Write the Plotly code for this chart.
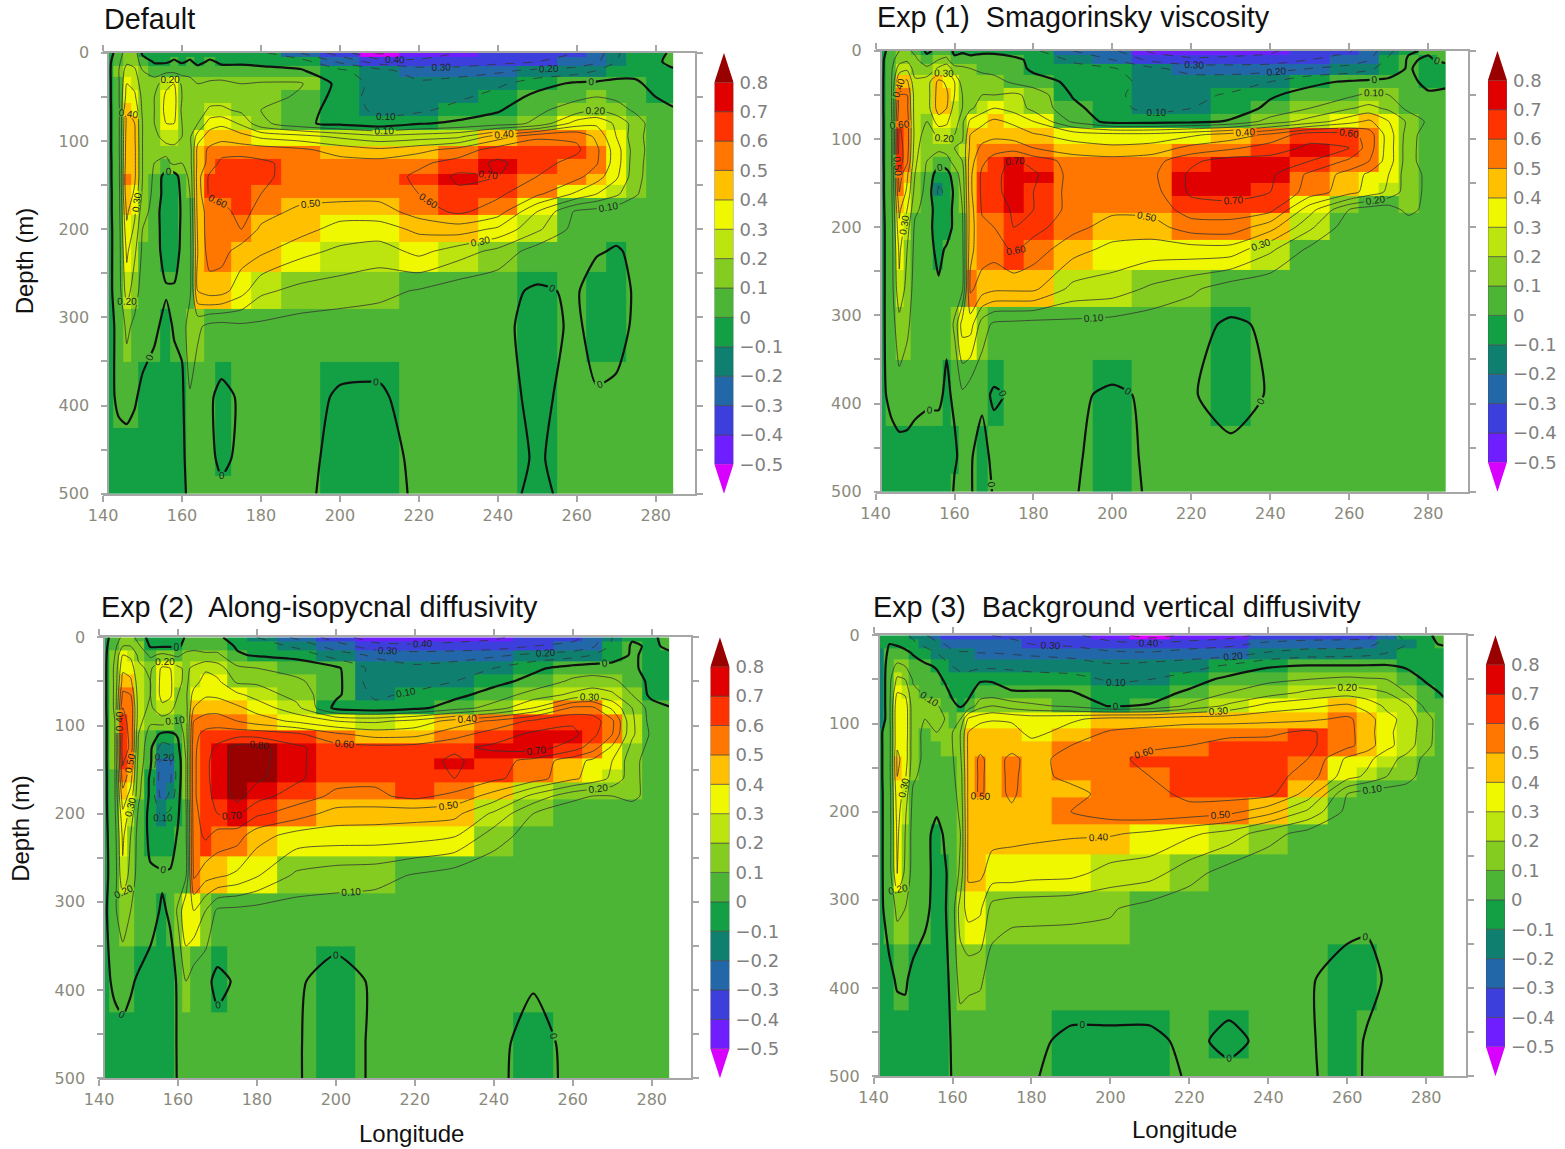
import numpy as np
import plotly.graph_objects as go

W, H = 1565, 1149

LONS = [141.3,144,146,148,150,153,156,158,160,162,164,167,170,175,180,190,200,210,220,230,240,250,260,265,270,275,280,284.4]
DEPTHS = [0,10,20,35,50,65,80,95,110,125,140,160,180,200,225,270,310,390,460,500]
DEPTH_EDGES = [0,5,15,27,42,57,72,87,105,120,137,150,165,184,214,248,290,350,425,480,500]

# velocity in hundredths of m/s, one row per depth
DEFAULT_Z = [
[-5,5,15,15,-2,-3,-3,-3,-5,-3,-5,-3,-5,-5,-8,-20,-35,-52,-45,-40,-35,-33,-30,-25,-12,-2,-5,3],
[-3,8,18,16,5,-1,-1,1,-1,1,-2,1,-1,-1,-2,-5,-22,-35,-38,-37,-33,-30,-28,-22,-10,-1,-3,5],
[-3,10,25,22,10,5,6,6,5,8,3,3,2,2,2,1,-8,-17,-25,-25,-22,-18,-15,-10,-5,-2,-5,-2],
[-3,9,30,27,14,15,28,30,18,12,10,12,13,10,11,11,-3,-14,-18,-15,-12,-4,2,2,3,1,-2,-5],
[-3,9,34,32,17,20,32,33,20,16,13,15,16,17,15,8,-4,-15,-16,-12,-6,3,8,10,8,4,0,-3],
[-3,8,40,38,18,20,33,33,18,15,14,22,22,18,10,3,-3,-13,-12,-6,-1,8,15,20,15,8,3,1],
[-3,8,43,40,20,20,30,30,20,17,20,35,38,28,13,2,-3,-7,-1,2,5,12,35,38,28,15,4,2],
[-3,8,45,41,20,15,28,28,20,18,35,45,47,44,38,34,28,23,25,28,45,58,58,48,30,13,5,2],
[-3,8,46,42,20,12,12,15,12,15,44,52,55,55,55,52,46,42,47,54,65,68,62,52,35,14,5,2],
[-3,7,47,42,20,10,8,12,10,15,44,53,63,65,62,56,54,54,58,64,72,64,56,51,35,13,5,2],
[-3,7,50,42,20,8,-5,-5,5,12,46,62,66,66,62,56,55,55,62,72,70,60,53,45,32,13,4,2],
[-3,6,48,38,18,7,-5,-8,3,10,45,62,64,65,60,55,54,54,60,68,62,52,38,30,22,11,3,1],
[-3,6,42,32,14,6,-8,-8,2,8,44,55,55,65,55,47,45,45,55,62,55,30,8,6,4,3,2,1],
[-3,5,38,28,10,5,-6,-6,2,7,42,56,55,60,48,44,36,36,42,45,38,22,6,4,3,2,2,1],
[-3,5,32,22,8,4,-4,-4,2,6,40,55,54,45,42,33,28,25,33,25,17,5,2,1,-1,2,2,1],
[-3,5,25,14,6,3,1,1,2,7,40,45,44,34,22,17,15,13,9,4,2,-1,1,-6,-3,1,1,1],
[-4,3,12,8,4,2,-3,1,2,18,12,7,6,8,8,6,5,4,3,2,3,-4,2,-5,-2,1,1,1],
[-3,2,4,1,-2,-5,-4,-4,-2,9,4,1,-2,1,2,3,-1,-1,3,1,3,-2,3,1,1,1,1,1],
[-5,-4,-5,-4,-4,-4,-4,-4,-1,2,1,1,-1,1,1,4,-4,-5,3,1,4,-1,4,1,1,1,1,1],
[-5,-5,-5,-5,-5,-5,-5,-5,-1,1,1,1,1,1,1,2,-3,-5,2,1,3,-2,3,1,1,1,1,1],
]

EXP1_Z = [
[-5,5,10,12,8,-2,3,5,-2,-1,-2,-1,-1,-2,-8,-20,-28,-42,-46,-45,-42,-33,-31,-25,-13,-1,1,3],
[-3,7,15,18,12,4,10,12,2,3,2,2,2,1,-1,-12,-20,-33,-38,-37,-36,-30,-26,-21,-8,1,-1,2],
[-3,8,25,28,15,12,22,28,14,12,10,8,6,4,-2,-6,-9,-18,-24,-25,-24,-20,-16,-12,-5,1,-4,-3],
[-3,9,40,42,22,25,43,38,30,15,14,14,14,8,4,-2,-8,-12,-15,-14,-10,-2,1,2,2,2,-2,-1],
[-3,9,50,50,25,25,45,42,30,20,18,20,20,22,17,-1,-8,-14,-12,-9,-1,3,8,12,10,5,1,1],
[-3,9,55,52,25,25,45,40,26,20,18,25,30,26,17,3,-7,-13,-10,-5,2,10,19,23,18,7,2,1],
[-3,8,60,55,25,20,35,32,22,18,32,38,42,38,30,8,-4,-4,-3,1,14,24,36,42,30,18,8,2],
[-3,8,62,55,26,15,22,24,20,18,40,44,47,45,41,36,33,33,38,44,52,66,64,55,35,15,4,2],
[-3,8,64,55,24,12,12,14,20,22,42,53,56,56,50,44,42,44,53,58,65,72,70,55,35,14,4,2],
[-3,8,66,52,22,10,5,6,14,20,46,58,64,72,66,56,54,56,68,75,74,70,58,50,35,14,4,2],
[-3,7,55,42,20,8,-6,-4,5,15,48,62,66,76,72,56,54,58,72,75,72,58,46,38,30,14,8,2],
[-3,7,50,38,16,7,-12,-8,2,12,48,62,66,76,70,56,53,56,72,75,70,56,44,36,28,14,8,1],
[-3,6,42,30,12,6,-6,-4,2,10,46,61,62,72,70,56,52,53,65,65,63,34,10,5,4,14,6,1],
[-3,5,38,24,8,4,-5,-4,2,8,46,58,60,70,64,53,46,46,55,56,44,22,4,3,2,2,2,1],
[-3,5,32,20,7,3,-2,1,2,7,48,55,54,62,55,44,37,35,36,36,22,8,3,2,1,1,1,1],
[-3,5,28,16,6,2,1,1,2,8,52,45,42,42,42,27,25,18,12,4,2,1,1,1,1,1,1,1],
[-3,5,16,12,5,2,1,1,12,35,35,15,8,7,6,7,6,4,2,-1,1,1,1,1,1,1,1,1],
[-3,3,6,4,2,1,1,-1,1,8,3,2,-1,1,1,1,-1,1,1,-5,1,1,1,1,1,1,1,1],
[-5,-5,-4,-3,-3,-3,-3,-3,-1,2,1,-4,3,1,1,2,-6,3,1,3,1,1,1,1,1,1,1,1],
[-5,-5,-5,-5,-5,-5,-5,-5,1,1,1,-5,1,1,1,1,-6,2,1,1,1,1,1,1,1,1,1,1],
]

EXP2_Z = [
[-4,5,12,15,5,-3,-3,-3,-4,1,4,2,2,-5,-10,-22,-35,-46,-46,-45,-42,-35,-32,-28,-10,-1,-1,2],
[-3,7,20,20,12,-1,-1,-1,-2,4,8,5,5,-1,-4,-12,-25,-36,-38,-36,-35,-30,-28,-22,-8,1,-1,1],
[-3,10,30,28,18,8,12,10,8,13,12,12,12,1,-1,-3,-15,-22,-25,-25,-22,-18,-14,-10,-5,1,-2,-1],
[-3,12,38,35,22,18,32,30,22,18,22,28,25,12,10,6,2,-14,-18,-15,-10,-2,4,5,4,2,-4,-5],
[-3,12,44,42,24,20,33,32,22,18,25,35,32,18,18,12,3,-16,-15,-10,-3,3,12,14,12,6,-3,-6],
[-3,12,52,50,25,20,33,32,20,18,34,38,38,32,26,16,2,-12,-8,-3,4,14,22,26,22,10,-3,-8],
[-3,12,60,58,25,18,28,25,14,16,40,48,46,42,36,23,-3,-7,-3,5,14,30,52,52,38,20,5,1],
[-3,10,62,58,24,12,15,12,8,15,50,52,55,50,45,38,30,28,33,44,52,62,68,66,52,22,6,2],
[-3,10,64,58,20,5,-2,-2,1,14,55,65,65,66,66,62,52,46,47,56,65,72,73,63,50,22,8,2],
[-3,10,66,58,18,2,-15,-12,-2,12,58,66,72,84,84,72,64,63,64,68,72,75,65,55,38,17,6,2],
[-3,10,62,50,16,2,-25,-20,-5,10,58,68,74,84,84,72,64,62,65,72,64,57,44,38,30,14,4,2],
[-3,9,55,44,14,-2,-28,-22,-5,10,58,68,74,84,82,72,63,62,65,70,62,55,42,36,28,14,4,1],
[-3,9,46,36,12,-2,-25,-18,-3,10,58,68,72,84,74,65,58,58,63,57,46,27,13,10,10,14,4,1],
[-3,8,38,26,8,-3,-12,-8,-1,8,56,66,70,72,62,55,46,45,44,43,28,10,3,2,1,1,1,1],
[-3,6,32,20,6,-2,-6,-5,1,8,55,62,56,54,44,36,35,35,34,31,15,5,2,1,1,1,1,1],
[-3,5,28,16,6,1,1,1,2,8,52,44,42,38,31,18,15,14,9,5,2,1,1,1,1,1,1,1],
[-3,9,14,10,6,3,-1,1,12,30,30,20,8,7,6,5,5,4,3,2,1,1,1,1,1,1,1,1],
[-3,2,5,1,-1,-3,-5,-3,1,10,4,2,-2,1,1,1,-3,1,1,1,1,1,1,1,1,1,1,1],
[-5,-4,-4,-3,-3,-3,-6,-4,1,3,1,1,3,1,1,1,-6,2,1,1,3,-4,3,1,1,1,1,1],
[-5,-5,-5,-5,-5,-5,-8,-5,1,1,1,1,1,1,1,1,-6,2,1,1,3,-5,3,1,1,1,1,1],
]

EXP3_Z = [
[-5,-5,-4,-8,-12,-18,-28,-30,-30,-30,-30,-30,-30,-32,-35,-38,-45,-55,-48,-45,-36,-35,-34,-34,-20,-3,-1,2],
[-3,0,-1,-4,-8,-12,-16,-20,-24,-25,-26,-25,-26,-27,-30,-32,-37,-38,-35,-32,-28,-26,-26,-24,-15,-10,-2,1],
[-11,3,4,3,-1,-6,-10,-14,-18,-19,-19,-20,-20,-21,-22,-24,-28,-29,-26,-25,-19,-15,-14,-13,-10,-8,-6,-5],
[-11,6,12,10,5,2,-1,-6,-10,-12,-12,-12,-12,-12,-13,-14,-18,-16,-14,-8,-1,1,1,1,1,-1,-5,-8],
[-11,7,22,20,9,6,3,-1,-5,-7,-7,-1,-1,-5,-6,-7,-11,-10,-5,3,8,10,12,11,10,4,-1,-5],
[-11,7,30,28,12,9,7,3,-2,-3,-2,4,4,1,1,1,-7,-5,2,10,15,22,26,24,20,10,3,-1],
[-11,7,38,36,14,12,11,7,2,-1,2,16,20,15,12,8,-1,1,12,22,34,38,42,36,28,22,7,2],
[-11,7,39,37,14,10,18,10,8,10,32,37,39,38,36,38,44,44,46,46,47,48,52,45,33,27,14,3],
[-3,6,39,37,14,8,10,10,10,20,40,46,46,45,36,45,51,54,56,57,58,62,53,45,32,26,14,3],
[-3,6,39,36,14,8,8,10,10,20,42,46,46,47,45,50,55,58,60,64,64,62,53,45,33,25,13,3],
[-3,6,42,36,14,8,6,6,9,18,42,52,46,52,47,53,57,63,66,67,66,60,38,33,24,17,7,1],
[-3,6,40,32,12,6,5,5,8,15,42,52,46,52,46,53,56,60,65,67,64,56,34,28,20,15,4,1],
[-3,5,36,26,8,4,3,3,6,14,42,52,45,52,44,46,54,56,63,64,63,46,10,5,4,3,2,1],
[-3,5,34,22,7,3,1,1,5,12,42,45,44,48,45,50,55,57,56,53,44,28,7,3,2,2,1,1],
[-3,5,32,20,6,3,-3,1,4,10,42,43,43,42,42,41,41,38,32,26,14,6,2,1,1,1,1,1],
[-3,5,30,18,6,3,-3,-1,3,12,42,42,36,36,34,33,26,24,14,5,2,1,1,1,1,1,1,1],
[-3,4,12,10,5,2,-3,-1,5,25,34,32,16,13,13,12,11,6,3,2,1,1,4,2,1,1,1,1],
[-3,-2,1,1,-2,-4,-4,-3,3,14,13,12,4,2,1,3,3,3,1,2,1,1,-4,-3,1,1,1,1],
[-5,-3,-4,-3,-3,-3,-3,-3,1,4,2,1,1,1,1,-1,-1,-1,1,-1,1,1,-4,1,1,1,1,1],
[-5,-5,-5,-5,-5,-5,-5,-5,1,1,1,1,1,1,1,-4,-6,-4,1,1,1,1,-3,1,1,1,1,1],
]

LEVELS = [-0.5,-0.4,-0.3,-0.2,-0.1,0,0.1,0.2,0.3,0.4,0.5,0.6,0.7,0.8]
LEVEL_TEXT = ["\u22120.5","\u22120.4","\u22120.3","\u22120.2","\u22120.1","0","0.1","0.2","0.3","0.4","0.5","0.6","0.7","0.8"]
BAND_COLORS = ["#d800ff","#6f1fff","#3d3fdc","#2268a8","#0f8070","#13a045","#4cb535","#84cc1f",
               "#bce510","#f0f800","#ffc000","#ff7700","#ff3300","#e00000","#990000"]
TITLES = ["Default","Exp (1)  Smagorinsky viscosity","Exp (2)  Along-isopycnal diffusivity","Exp (3)  Background vertical diffusivity"]
DEPTH_TICKS = [0,50,100,150,200,250,300,350,400,450,500]
LON_TICKS = list(range(140,300,20))

# panel geometry in page pixels: x of lon 140, data-left, right frame, top, bottom, colorbar left, title x, title y
PANELS = [
 dict(z=DEFAULT_Z, l=103, d=108, r=695, t=52, b=494, c=714, tx=102, ty=18),
 dict(z=EXP1_Z, l=875, d=880, r=1467, t=50, b=492, c=1487, tx=874, ty=16),
 dict(z=EXP2_Z, l=99, d=104, r=691, t=638, b=1080, c=710, tx=99, ty=608),
 dict(z=EXP3_Z, l=873, d=878, r=1465, t=636, b=1078, c=1485, tx=870, ty=608),
]
PX_PER_DEG = 3.945
GREY = "#a6a6a6"
TICKFONT = dict(family="DejaVu Sans", size=16, color="#8a8a7c")

# page pixels to paper fractions (plot area measured in the rendered page)
OX, OY, AW, AH = 15, 8, 1549, 1133
def px(x): return (x - OX) / AW
def py(y): return 1 - (y - OY) / AH

lons = np.array(LONS); deps = np.array(DEPTHS, float)
x_edges = np.r_[lons[0], (lons[1:]+lons[:-1])/2, lons[-1]]
y_edges = np.array(DEPTH_EDGES, float)

n = len(BAND_COLORS)
cscale = []
for i, c in enumerate(BAND_COLORS):
    cscale += [[i/n, c], [(i+1)/n, c]]

fig = go.Figure()
layout = {}
for i, p in enumerate(PANELS):
    k = 3*i
    xa, ya, yr = k+1, k+1, k+2
    cx, cy = k+3, k+3
    xn = f"x{xa}"; yn = f"y{ya}"
    Z = np.array(p["z"], float) / 100
    fig.add_trace(go.Heatmap(x=x_edges, y=y_edges, z=Z, colorscale=cscale, zmin=-0.6, zmax=0.9,
                             showscale=False, xaxis=xn, yaxis=yn, hoverinfo="skip", zsmooth=False))
    lab = dict(family="Liberation Sans", size=10, color="#222")
    fig.add_trace(go.Contour(x=lons, y=deps, z=Z, xaxis=xn, yaxis=yn, showscale=False, hoverinfo="skip",
                             autocontour=False,
                             contours=dict(start=0.1, end=0.8, size=0.1, coloring="none", showlabels=True,
                                           labelfont=lab, labelformat=".2f"),
                             line=dict(color="#333", width=0.8, smoothing=0.6)))
    fig.add_trace(go.Contour(x=lons, y=deps, z=-Z, xaxis=xn, yaxis=yn, showscale=False, hoverinfo="skip",
                             autocontour=False,
                             contours=dict(start=0.1, end=0.5, size=0.1, coloring="none", showlabels=True,
                                           labelfont=lab, labelformat=".2f"),
                             line=dict(color="#333", width=0.8, dash="dash", smoothing=0.6)))
    fig.add_trace(go.Contour(x=lons, y=deps, z=Z, xaxis=xn, yaxis=yn, showscale=False, hoverinfo="skip",
                             autocontour=False,
                             contours=dict(start=0, end=0, size=1, coloring="none", showlabels=True,
                                           labelfont=lab, labelformat=".0f"),
                             line=dict(color="#111", width=2.2, smoothing=0.6)))
    fig.add_trace(go.Scatter(x=[], y=[], xaxis=xn, yaxis=f"y{yr}", showlegend=False))

    layout[f"xaxis{xa}"] = dict(domain=[px(p["l"]), px(p["r"])], range=[140, 140+(p["r"]-p["l"])/PX_PER_DEG],
        tickmode="array", tickvals=LON_TICKS, ticks="outside", ticklen=6, tickcolor=GREY, tickwidth=1.5,
        showline=True, linecolor=GREY, linewidth=2, mirror="ticks", showgrid=False, zeroline=False,
        tickfont=TICKFONT, anchor=yn)
    ytext = [str(v) if v % 100 == 0 else "" for v in DEPTH_TICKS]
    layout[f"yaxis{ya}"] = dict(domain=[py(p["b"]), py(p["t"])], range=[500, 0], tickmode="array",
        tickvals=DEPTH_TICKS, ticktext=ytext, ticks="outside", ticklen=6, tickcolor=GREY, tickwidth=1.5,
        showline=True, linecolor=GREY, linewidth=1.5, showgrid=False, zeroline=False,
        tickfont=TICKFONT, anchor="free", position=px(p["d"]), ticklabelstandoff=9)
    layout[f"yaxis{yr}"] = dict(range=[500, 0], tickmode="array", tickvals=DEPTH_TICKS, showticklabels=False,
        ticks="outside", ticklen=6, tickcolor=GREY, tickwidth=1.5, showline=True, linecolor=GREY, linewidth=2,
        showgrid=False, zeroline=False, overlaying=yn, side="right", anchor=xn)

    cxn = f"x{cx}"; cyn = f"y{cy}"
    for lv, col in zip(LEVELS[:-1], BAND_COLORS[1:-1]):
        fig.add_trace(go.Bar(x=[0.5], y=[0.1], base=[lv], width=[1], marker=dict(color=col, line=dict(color="#444", width=0.6)),
                             xaxis=cxn, yaxis=cyn, showlegend=False, hoverinfo="skip"))
    fig.add_trace(go.Scatter(x=[0,1,0.5,0], y=[0.8,0.8,0.9,0.8], fill="toself", fillcolor=BAND_COLORS[-1], mode="none",
                             xaxis=cxn, yaxis=cyn, showlegend=False, hoverinfo="skip"))
    fig.add_trace(go.Scatter(x=[0,1,0.5,0], y=[-0.5,-0.5,-0.6,-0.5], fill="toself", fillcolor=BAND_COLORS[0], mode="none",
                             xaxis=cxn, yaxis=cyn, showlegend=False, hoverinfo="skip"))
    layout[f"xaxis{cx}"] = dict(domain=[px(p["c"]), px(p["c"]+19)], range=[0, 1], visible=False, anchor=cyn)
    layout[f"yaxis{cy}"] = dict(domain=[py(p["b"]), py(p["t"])], range=[-0.6, 0.9], side="right", anchor=cxn,
        tickmode="array", tickvals=LEVELS, ticktext=LEVEL_TEXT, ticks="", showgrid=False, zeroline=False, showline=False,
        tickfont=dict(family="DejaVu Sans", size=18, color="#808080"), ticklabelstandoff=5)

anns = []
for p, t in zip(PANELS, TITLES):
    anns.append(dict(text=t, x=px(p["tx"]), y=py(p["ty"]), xref="paper", yref="paper", xanchor="left", yanchor="middle",
                     showarrow=False, font=dict(family="Liberation Sans", size=28.8, color="#111")))
for (txt, x, y, ang) in [("Depth (m)", 24, 261, -90), ("Depth (m)", 21, 830, -90), ("Longitude", 411, 1135, 0), ("Longitude", 1184, 1131, 0)]:
    anns.append(dict(text=txt, x=px(x), y=py(y), xref="paper", yref="paper", xanchor="center", yanchor="middle",
                     textangle=ang, showarrow=False, font=dict(family="Liberation Sans", size=24, color="#111")))

fig.update_layout(width=W, height=H, autosize=False, margin=dict(l=0, r=0, t=0, b=0), paper_bgcolor="white",
                  plot_bgcolor="white", showlegend=False, barmode="overlay", annotations=anns, **layout)
fig.write_html("out.html", config=dict(displayModeBar=False),
               post_script="document.body.style.margin='0';")
